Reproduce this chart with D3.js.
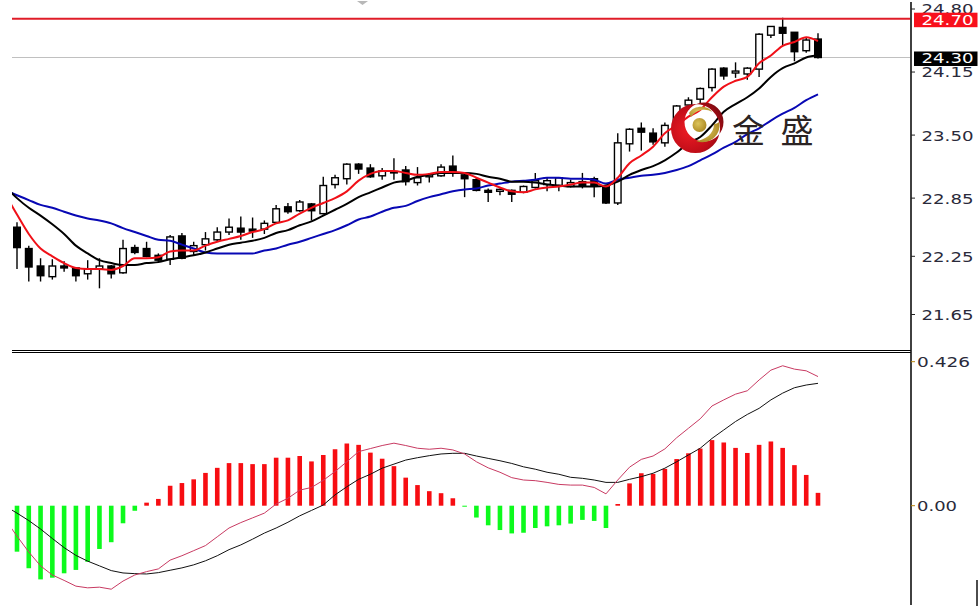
<!DOCTYPE html>
<html>
<head>
<meta charset="utf-8">
<script src="https://cdn.jsdelivr.net/npm/d3@7"></script>
<style>html,body{margin:0;padding:0;background:#fff}svg{display:block}</style>
</head>
<body>
<svg id="c" width="979" height="611"></svg>
<script>
// Candles: open, high, low, close
const opens=[22.55,22.33,22.15,22.04,22.15,22.13,22.07,22.12,22.15,22.08,22.34,22.33,22.26,22.22,22.46,22.30,22.37,22.42,22.50,22.54,22.53,22.53,22.60,22.76,22.72,22.79,22.69,22.99,23.05,23.20,23.16,23.08,23.12,23.14,23.01,23.07,23.08,23.18,23.09,23.04,22.93,22.92,22.93,22.91,22.96,22.99,22.98,22.97,23.02,23.05,22.97,22.80,23.41,23.57,23.52,23.42,23.55,23.81,23.87,23.99,24.19,24.14,24.13,24.18,24.53,24.61,24.56,24.37,24.49];
const highs=[22.60,22.36,22.23,22.22,22.20,22.14,22.21,22.23,22.16,22.42,22.37,22.40,22.28,22.47,22.49,22.40,22.50,22.55,22.64,22.66,22.65,22.62,22.78,22.80,22.83,22.80,23.07,23.09,23.21,23.21,23.20,23.16,23.26,23.18,23.17,23.11,23.20,23.29,23.11,23.06,22.95,22.95,22.94,22.98,23.11,23.06,23.06,23.04,23.11,23.07,22.98,23.52,23.57,23.63,23.57,23.63,23.81,23.89,23.99,24.19,24.20,24.25,24.20,24.55,24.62,24.71,24.56,24.50,24.55];
const lows=[22.12,21.99,21.99,22.01,22.09,21.99,22.01,21.92,22.02,22.07,22.27,22.24,22.19,22.16,22.22,22.26,22.31,22.40,22.47,22.42,22.44,22.48,22.59,22.69,22.71,22.62,22.68,22.95,22.99,23.10,23.06,23.04,23.04,22.98,22.98,23.01,23.07,23.07,22.86,22.92,22.81,22.88,22.81,22.90,22.95,22.92,22.92,22.96,22.95,22.86,22.79,22.78,23.33,23.34,23.40,23.38,23.52,23.76,23.83,23.95,24.07,24.09,24.07,24.10,24.50,24.43,24.26,24.35,24.29];
const closes=[22.34,22.14,22.05,22.15,22.13,22.05,22.12,22.15,22.07,22.33,22.29,22.25,22.21,22.45,22.23,22.36,22.43,22.50,22.55,22.50,22.51,22.59,22.74,22.71,22.81,22.72,22.98,23.06,23.20,23.15,23.07,23.13,23.11,23.02,23.06,23.09,23.17,23.12,23.05,22.93,22.91,22.94,22.89,22.97,23.03,23.03,23.06,23.01,22.98,22.98,22.80,23.42,23.56,23.53,23.43,23.60,23.80,23.86,23.98,24.18,24.11,24.16,24.19,24.54,24.62,24.55,24.36,24.48,24.30];
// Moving averages: first value belongs to the bar just left of the window
const maFast=[22.89,22.68,22.48,22.33,22.25,22.18,22.13,22.12,22.12,22.11,22.15,22.23,22.23,22.24,22.30,22.31,22.31,22.36,22.40,22.43,22.46,22.50,22.53,22.59,22.62,22.69,22.75,22.80,22.85,22.92,23.03,23.10,23.13,23.13,23.11,23.09,23.10,23.12,23.12,23.11,23.06,23.01,22.96,22.92,22.91,22.94,22.96,22.97,22.99,23.01,23.01,22.97,23.06,23.21,23.29,23.38,23.52,23.60,23.69,23.76,23.89,24.00,24.06,24.10,24.24,24.32,24.42,24.46,24.51,24.47];
const maMid=[22.97,22.85,22.75,22.67,22.58,22.48,22.36,22.28,22.21,22.18,22.16,22.16,22.18,22.19,22.22,22.24,22.26,22.29,22.33,22.37,22.39,22.41,22.44,22.49,22.52,22.57,22.61,22.67,22.73,22.79,22.86,22.91,22.96,23.01,23.03,23.07,23.09,23.11,23.11,23.11,23.10,23.07,23.05,23.02,23.02,23.01,22.99,22.98,22.97,22.97,22.97,22.98,23.02,23.09,23.14,23.18,23.24,23.32,23.42,23.48,23.60,23.74,23.82,23.89,23.98,24.10,24.19,24.24,24.30,24.32];
const maSlow=[22.93,22.88,22.83,22.78,22.75,22.71,22.67,22.64,22.62,22.59,22.54,22.50,22.46,22.42,22.41,22.37,22.33,22.29,22.28,22.28,22.28,22.28,22.31,22.33,22.37,22.40,22.44,22.48,22.52,22.57,22.63,22.66,22.71,22.75,22.77,22.82,22.86,22.89,22.92,22.94,22.95,22.98,23.00,23.02,23.03,23.04,23.06,23.06,23.05,23.05,23.04,23.00,23.04,23.06,23.08,23.09,23.11,23.14,23.18,23.24,23.30,23.37,23.43,23.51,23.57,23.65,23.72,23.78,23.86,23.92];
// Lower panel
const histogram=[-.136,-.185,-.218,-.213,-.200,-.190,-.166,-.128,-.108,-.052,-.015,.009,.020,.059,.067,.078,.097,.112,.126,.126,.123,.123,.142,.142,.147,.131,.150,.167,.184,.180,.157,.139,.117,.083,.061,.043,.037,.022,-.003,-.035,-.058,-.072,-.082,-.080,-.066,-.061,-.058,-.053,-.042,-.045,-.066,.005,.066,.096,.094,.109,.138,.155,.169,.194,.187,.171,.156,.180,.190,.171,.120,.091,.038];
const lineA=[-.041,-.090,-.137,-.178,-.205,-.221,-.238,-.243,-.241,-.247,-.223,-.205,-.195,-.187,-.161,-.148,-.133,-.118,-.092,-.066,-.050,-.036,-.022,.005,.022,.046,.054,.075,.101,.130,.160,.169,.178,.185,.178,.170,.167,.170,.165,.153,.130,.112,.099,.083,.076,.074,.069,.063,.061,.061,.054,.035,.076,.114,.137,.147,.168,.201,.229,.257,.295,.313,.330,.340,.372,.401,.414,.404,.399,.382];
const lineB=[-.001,-.022,-.044,-.069,-.097,-.124,-.147,-.164,-.178,-.192,-.199,-.201,-.202,-.198,-.191,-.184,-.175,-.163,-.148,-.130,-.116,-.099,-.081,-.066,-.049,-.030,-.014,.002,.032,.056,.078,.093,.111,.123,.135,.142,.148,.153,.155,.155,.147,.140,.133,.125,.115,.108,.099,.093,.084,.081,.076,.069,.069,.078,.086,.096,.111,.130,.150,.170,.199,.224,.249,.270,.288,.313,.333,.349,.357,.362];
const priceTicks=[24.80,24.15,23.50,22.85,22.25,21.65];
const priceLabels=["24.80","24.15","23.50","22.85","22.25","21.65"];
const macdTicks=[0.426,0];
const macdLabels=["0.426","0.00"];
const highLevel=24.70, lastLevel=24.30;
const logoText="金 盛";

const svg=d3.select("#c");
const x=d3.scaleLinear().domain([0,68]).range([17,818]);
const y=d3.scaleLinear().domain([21.65,24.80]).range([314.5,9]);
const ym=d3.scaleLinear().domain([0,0.426]).range([505.7,361.7]);
const L=12,R=910.5,AX=911;

const defs=svg.append("defs");
defs.append("clipPath").attr("id","cp").append("rect").attr("x",L).attr("y",0).attr("width",R-L).attr("height",605);
const g1=defs.append("radialGradient").attr("id","rg").attr("cx","0.35").attr("cy","0.55").attr("r","0.7");
g1.append("stop").attr("offset","0").attr("stop-color","#ee1c24");
g1.append("stop").attr("offset","0.65").attr("stop-color","#c00d18");
g1.append("stop").attr("offset","1").attr("stop-color","#7d0a10");
const g2=defs.append("radialGradient").attr("id","gg").attr("cx","0.4").attr("cy","0.4").attr("r","0.7");
g2.append("stop").attr("offset","0").attr("stop-color","#dcc45c");
g2.append("stop").attr("offset","1").attr("stop-color","#a8841e");

const plot=svg.append("g").attr("clip-path","url(#cp)");
svg.append("path").attr("d","M357 1H368L362.5 5Z").attr("fill","#b8b8b8");

plot.append("line").attr("x1",L).attr("x2",R).attr("y1",y(lastLevel)).attr("y2",y(lastLevel)).attr("stroke","#c0c0c0").attr("stroke-width",1);

// candles
const idx=d3.range(opens.length);
const bw=6.6;
plot.append("g").selectAll("line").data(idx).join("line")
 .attr("x1",i=>x(i)).attr("x2",i=>x(i)).attr("y1",i=>y(highs[i])).attr("y2",i=>y(lows[i]))
 .attr("stroke","#000").attr("stroke-width",1.4);
plot.append("g").selectAll("rect").data(idx).join("rect")
 .attr("x",i=>x(i)-bw/2).attr("width",bw)
 .attr("y",i=>y(Math.max(opens[i],closes[i])))
 .attr("height",i=>Math.max(.5,Math.abs(y(opens[i])-y(closes[i]))))
 .attr("fill",i=>closes[i]>=opens[i]?"#fff":"#000").attr("stroke","#000").attr("stroke-width",1.4);

// high level line
plot.append("line").attr("x1",L).attr("x2",R).attr("y1",y(highLevel)).attr("y2",y(highLevel)).attr("stroke","#e01c28").attr("stroke-width",2);

// moving averages
const drawMA=(arr,col,w)=>plot.append("path").datum(arr)
 .attr("d",d3.line().x((d,i)=>x(i-1)).y(d=>y(d)).curve(d3.curveMonotoneX))
 .attr("fill","none").attr("stroke",col).attr("stroke-width",w).attr("stroke-linejoin","round");
drawMA(maSlow,"#0808b4",2);
drawMA(maMid,"#000",2);
drawMA(maFast,"#f01018",2);

// logo
const logo=svg.append("g");
const outer=d3.path(); outer.arc(695.5,128.5,24.5,0,2*Math.PI); outer.closePath();
const inner=d3.path(); inner.arc(704,122,19.5,0,2*Math.PI); inner.closePath();
logo.append("path").attr("d",outer.toString()+inner.toString()).attr("fill","url(#rg)").attr("fill-rule","evenodd");
logo.append("path").attr("d","M689 113C694 105 708 105 712 112C706 108 697 109 691 117Z").attr("fill","url(#gg)");
logo.append("path").attr("d","M719 122C722 134 710 146 696 141C705 140 714 134 714 124C716 124 718 123 719 122Z").attr("fill","url(#gg)");
logo.append("circle").attr("cx",699.5).attr("cy",125).attr("r",7).attr("fill","url(#gg)");
svg.append("text").attr("x",732).attr("y",142.5).text(logoText)
 .attr("font-family","'Noto Sans CJK SC'").attr("font-size",33).attr("fill","#2b2323")
 .attr("letter-spacing",4).attr("xml:space","preserve");

// lower panel
const lower=svg.append("g").attr("clip-path","url(#cp)");
const hw=4.6;
lower.append("g").selectAll("rect").data(histogram).join("rect")
 .attr("x",(d,i)=>x(i)-hw/2).attr("width",hw)
 .attr("y",d=>d>=0?ym(d):ym(0)).attr("height",d=>Math.abs(ym(d)-ym(0)))
 .attr("fill",d=>d>=0?"#f70d12":"#0dfa1c");
const ml=d3.line().x((d,i)=>x(i-1)).y(d=>ym(d));
lower.append("path").datum(lineB).attr("d",ml).attr("fill","none").attr("stroke","#111").attr("stroke-width",1);
lower.append("path").datum(lineA).attr("d",ml).attr("fill","none").attr("stroke","#c83a62").attr("stroke-width",1);

// frame
svg.append("line").attr("x1",L).attr("x2",AX).attr("y1",350.5).attr("y2",350.5).attr("stroke","#000").attr("stroke-width",1);
svg.append("line").attr("x1",L).attr("x2",AX).attr("y1",352.5).attr("y2",352.5).attr("stroke","#000").attr("stroke-width",1);
svg.append("line").attr("x1",AX).attr("x2",AX).attr("y1",2).attr("y2",605).attr("stroke","#111").attr("stroke-width",1.6);
svg.append("line").attr("x1",977).attr("x2",977).attr("y1",580).attr("y2",606).attr("stroke","#000").attr("stroke-width",1.4);

const ff="'DejaVu Sans'";
const label=(g,t,xp,yp,w,col)=>g.append("text").attr("x",xp).attr("y",yp).attr("dy","0.36em").text(t)
 .attr("font-family",ff).attr("font-size",13.5).attr("fill",col)
 .attr("textLength",w).attr("lengthAdjust","spacingAndGlyphs");
const ax=svg.append("g");
priceTicks.forEach((t,i)=>{
 ax.append("line").attr("x1",AX).attr("x2",915).attr("y1",y(t)).attr("y2",y(t)).attr("stroke","#222").attr("stroke-width",1);
 label(ax,priceLabels[i],921.5,y(t)+.6,52,"#2a2a3a");
});
macdTicks.forEach((t,i)=>{
 ax.append("line").attr("x1",AX).attr("x2",915).attr("y1",ym(t)).attr("y2",ym(t)).attr("stroke","#b8860b").attr("stroke-width",1);
 label(ax,macdLabels[i],917,ym(t),i===0?53:40,"#2a2a3a");
});
const badge=(v,fill)=>{
 const yy=y(v);
 ax.append("rect").attr("x",914).attr("y",yy-6).attr("width",63.5).attr("height",14.5).attr("fill",fill);
 label(ax,v.toFixed(2),921.5,yy+1,52,"#fff");
};
badge(highLevel,"#f8101c");
badge(lastLevel,"#000");
</script>
</body>
</html>
